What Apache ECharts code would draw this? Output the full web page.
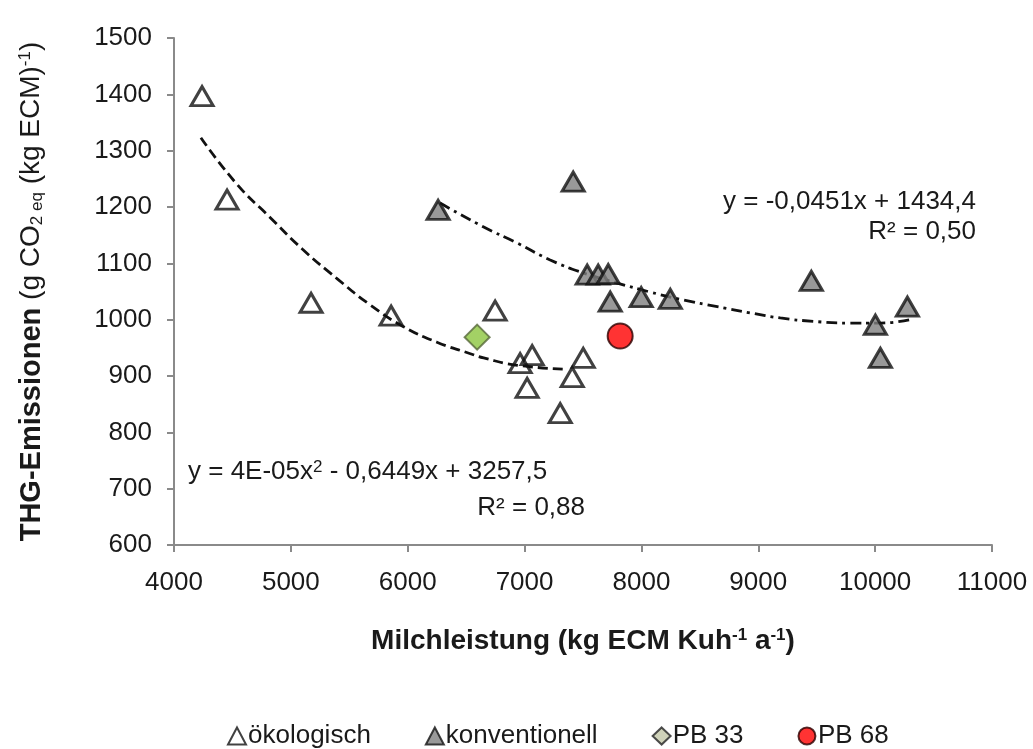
<!DOCTYPE html>
<html>
<head>
<meta charset="utf-8">
<script src="https://cdn.jsdelivr.net/npm/echarts/dist/echarts.min.js"></script>
<style>
  html, body { margin: 0; padding: 0; background: #ffffff; }
  #chart { width: 1033px; height: 749px; }
</style>
</head>
<body>
<div id="chart"></div>
<script>
// ---- data ----
const oekoX = [4240, 4454, 5173, 5858, 6748, 6962, 7065, 7022, 7502, 7408, 7305];
const oekoY = [1397, 1213, 1030, 1007, 1016, 923, 937, 879, 932, 898, 834];

const konvX = [6260, 7416, 7536, 7630, 7716, 7733, 7998, 8247, 9454, 10276, 10002, 10045];
const konvY = [1195, 1245, 1080, 1080, 1081, 1032, 1040, 1037, 1069, 1023, 991, 932];

const pb33X = [6594];
const pb33Y = [969];
const pb68X = [7818];
const pb68Y = [971];

// trend curves
const oekoTrendX = [4230, 4540, 4820, 5100, 5400, 5680, 5960, 6250, 6530, 6650, 6940, 7360];
const oekoTrendY = [1323, 1240, 1182, 1125, 1072, 1026, 988, 960, 940, 932, 919, 912];

const konvTrendX = [6277, 6646, 6937, 7219, 7502, 7793, 8075, 8358, 8649, 8932, 9188, 9471, 9762, 10045, 10301];
const konvTrendY = [1207, 1165, 1136, 1106, 1083, 1065, 1049, 1035, 1023, 1012, 1003, 997, 994, 994, 1000];

const xTicks = { min: 4000, max: 11000, step: 1000 };
const yTicks = { min: 600, max: 1500, step: 100 };

const legendNames = ['ökologisch', 'konventionell', 'PB 33', 'PB 68'];

const eqKonv = 'y = -0,0451x + 1434,4';
const r2Konv = 'R² = 0,50';
const eqOeko = 'y = 4E-05x{sup|2} - 0,6449x + 3257,5';
const r2Oeko = 'R² = 0,88';

// ---- build ----
const zip = (xs, ys) => xs.map((x, i) => [x, ys[i]]);
const FONT = '"Liberation Sans", Arial, sans-serif';
const TXT = '#1a1a1a';
const AXIS = '#8a8a8a';
const plain = v => String(v);

const chart = echarts.init(document.getElementById('chart'), null, { renderer: 'canvas' });

const option = {
  backgroundColor: '#ffffff',
  animation: false,
  textStyle: { fontFamily: FONT },
  grid: { left: 174, right: 41, top: 38, bottom: 204, containLabel: false },
  xAxis: {
    type: 'value',
    min: xTicks.min, max: xTicks.max, interval: xTicks.step,
    splitLine: { show: false },
    axisLine: { show: true, lineStyle: { color: AXIS, width: 2 } },
    axisTick: { show: true, length: 7, lineStyle: { color: AXIS, width: 2 } },
    axisLabel: { color: TXT, fontSize: 26, fontFamily: FONT, margin: 25, formatter: plain },
    name: '{b|Milchleistung (kg ECM Kuh}{bs|-1}{b| a}{bs|-1}{b|)}',
    nameLocation: 'middle',
    nameGap: 82,
    nameTextStyle: {
      color: TXT, fontSize: 28, fontFamily: FONT, fontWeight: 'bold',
      rich: {
        b: { fontSize: 28, fontWeight: 'bold', fontFamily: FONT, color: TXT },
        bs: { fontSize: 17, fontWeight: 'bold', fontFamily: FONT, color: TXT, verticalAlign: 'top' }
      }
    }
  },
  yAxis: {
    type: 'value',
    min: yTicks.min, max: yTicks.max, interval: yTicks.step,
    splitLine: { show: false },
    axisLine: { show: true, lineStyle: { color: AXIS, width: 2 } },
    axisTick: { show: true, length: 7, lineStyle: { color: AXIS, width: 2 } },
    axisLabel: { color: TXT, fontSize: 26, fontFamily: FONT, margin: 22, formatter: plain },
    name: '{b|THG-Emissionen}{r| (g CO}{sub|2 eq}{r| (kg ECM)}{sup|-1}{r|)}',
    nameLocation: 'middle',
    nameRotate: 90,
    nameGap: 128,
    nameTextStyle: {
      color: TXT, fontSize: 28, fontFamily: FONT,
      rich: {
        b: { fontSize: 29, fontWeight: 'bold', fontFamily: FONT, color: TXT },
        r: { fontSize: 28, fontWeight: 'normal', fontFamily: FONT, color: TXT },
        sub: { fontSize: 17, fontFamily: FONT, color: TXT, verticalAlign: 'bottom' },
        sup: { fontSize: 17, fontFamily: FONT, color: TXT, verticalAlign: 'top' }
      }
    }
  },
  legend: {
    data: [
      { name: legendNames[0] },
      { name: legendNames[1] },
      { name: legendNames[2], itemStyle: { color: '#c3c7a8', borderColor: '#222', borderWidth: 2 } },
      { name: legendNames[3] }
    ],
    top: 718,
    left: 222,
    itemWidth: 18,
    itemHeight: 17,
    itemGap: 54,
    selectedMode: false,
    textStyle: { color: TXT, fontSize: 26, fontFamily: FONT, padding: [0, 0, 0, -3] }
  },
  series: [
    {
      name: 'trendOeko', type: 'line', data: zip(oekoTrendX, oekoTrendY),
      smooth: true, showSymbol: false, silent: true, z: 1,
      lineStyle: { color: '#111', width: 2.8, type: [10, 5] }
    },
    {
      name: 'trendKonv', type: 'line', data: zip(konvTrendX, konvTrendY),
      smooth: true, showSymbol: false, silent: true, z: 1,
      lineStyle: { color: '#111', width: 2.8, type: [11, 5, 3, 5] }
    },
    {
      name: legendNames[0], type: 'scatter', data: zip(oekoX, oekoY), z: 3,
      symbol: 'triangle', symbolSize: [22, 19],
      itemStyle: { color: 'rgba(255,255,255,0)', borderColor: '#111', borderWidth: 3 }
    },
    {
      name: legendNames[1], type: 'scatter', data: zip(konvX, konvY), z: 3,
      symbol: 'triangle', symbolSize: [22, 19],
      itemStyle: { color: '#7f7f7f', borderColor: '#111', borderWidth: 3 }
    },
    {
      name: legendNames[2], type: 'scatter', data: zip(pb33X, pb33Y), z: 4,
      symbol: 'diamond', symbolSize: [25, 25],
      itemStyle: { color: '#8cc63f', borderColor: '#56683a', borderWidth: 2 }
    },
    {
      name: legendNames[3], type: 'scatter', data: zip(pb68X, pb68Y), z: 4,
      symbol: 'circle', symbolSize: 25,
      itemStyle: { color: '#ff0000', borderColor: '#2a0000', borderWidth: 2 }
    }
  ],
  graphic: [
    {
      type: 'text', x: 976, y: 202, z: 10,
      style: { text: eqKonv, align: 'right', verticalAlign: 'middle', fontSize: 26, fontFamily: FONT, fill: TXT }
    },
    {
      type: 'text', x: 976, y: 232, z: 10,
      style: { text: r2Konv, align: 'right', verticalAlign: 'middle', fontSize: 26, fontFamily: FONT, fill: TXT }
    },
    {
      type: 'text', x: 188, y: 472, z: 10,
      style: {
        text: eqOeko, align: 'left', verticalAlign: 'middle', fontSize: 26, fontFamily: FONT, fill: TXT,
        rich: { sup: { fontSize: 17, fontFamily: FONT, fill: TXT, verticalAlign: 'top' } }
      }
    },
    {
      type: 'text', x: 585, y: 508, z: 10,
      style: { text: r2Oeko, align: 'right', verticalAlign: 'middle', fontSize: 26, fontFamily: FONT, fill: TXT }
    }
  ]
};

chart.setOption(option);
</script>
</body>
</html>
